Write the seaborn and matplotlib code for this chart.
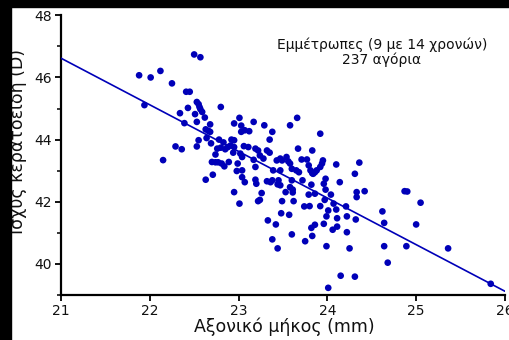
import numpy as np
import pandas as pd
import matplotlib
matplotlib.use("Agg")
import matplotlib.pyplot as plt
from matplotlib.patches import Rectangle
from matplotlib.ticker import MultipleLocator
import seaborn as sns

# Axial length (mm) and corneal power (D) for each emmetropic boy
axial_length = [
    22.50, 22.57, 21.88, 22.01, 22.12, 22.25, 22.41, 22.45, 21.94, 22.53,
    22.55, 22.56, 22.57, 22.59, 22.43, 22.80, 22.34, 22.51, 22.62, 22.53,
    22.39, 22.68, 22.63, 22.66, 22.68, 22.64, 22.55, 22.69, 22.78, 22.83,
    22.80, 22.76, 22.91, 22.29, 22.36, 22.53, 22.74, 22.15, 22.70, 22.74,
    22.77, 22.81, 22.84, 22.89, 22.71, 22.63,
    23.01, 22.95, 23.03, 23.17, 23.29, 23.66, 23.58, 23.03, 23.07, 23.12,
    23.38, 23.35, 22.92, 22.95, 22.88, 22.85, 22.95, 23.06, 23.11, 23.19,
    23.22, 23.32, 23.35, 22.94, 23.02, 23.04, 23.67, 23.83, 22.99, 23.17,
    23.24, 23.28, 23.43, 23.47, 23.49, 23.54, 23.56, 23.58, 23.71, 23.19,
    23.39, 23.47, 23.60, 23.65, 23.68, 22.98, 23.04, 23.04, 23.07, 23.19,
    23.20, 23.32, 23.36, 23.38, 23.45, 23.44, 23.47, 23.60, 23.58, 23.61,
    23.72, 22.95, 23.53,
    23.01, 23.26, 23.22, 23.24, 23.61, 23.49, 23.62, 23.74, 23.80, 23.48,
    23.57, 23.33, 23.42, 23.86, 23.82, 23.60, 23.83, 23.75, 23.38, 23.44,
    23.92, 23.77, 23.79, 23.81, 23.83, 23.84, 23.86, 23.88, 23.92, 23.94,
    23.95, 24.10, 24.36, 24.31, 23.98, 23.96, 23.82, 24.14, 23.98, 24.04,
    23.86, 23.79, 24.33, 24.42, 24.33, 23.97, 24.07, 24.10, 24.01, 23.92,
    24.21, 24.62, 24.64, 23.99, 24.11, 24.22, 24.32, 23.96, 24.11, 24.06,
    24.22, 23.99, 24.25, 24.64, 24.15, 24.31, 24.01,
    24.87, 24.90, 25.05, 25.00, 24.89, 25.36, 24.68, 25.84,
]
corneal_power = [
    46.74, 46.65, 46.07, 46.00, 46.21, 45.81, 45.54, 45.54, 45.11, 45.21,
    45.14, 45.05, 44.98, 44.89, 45.02, 45.05, 44.85, 44.82, 44.71, 44.57,
    44.53, 44.49, 44.33, 44.28, 44.25, 44.05, 43.98, 43.88, 44.00, 43.91,
    43.74, 43.71, 43.81, 43.78, 43.69, 43.78, 43.52, 43.34, 43.28, 43.27,
    43.27, 43.23, 43.14, 43.28, 42.87, 42.71,
    44.70, 44.52, 44.45, 44.57, 44.46, 44.70, 44.46, 44.25, 44.30, 44.27,
    44.25, 44.00, 44.00, 43.98, 43.76, 43.69, 43.76, 43.79, 43.76, 43.71,
    43.65, 43.65, 43.58, 43.58, 43.55, 43.44, 43.71, 43.65, 43.23, 43.35,
    43.49, 43.39, 43.33, 43.39, 43.33, 43.44, 43.30, 43.23, 43.36, 43.12,
    43.01, 43.01, 43.06, 43.01, 42.95, 42.99, 43.01, 42.79, 42.63, 42.71,
    42.58, 42.66, 42.63, 42.69, 42.69, 42.56, 42.53, 42.69, 42.47, 42.39,
    42.69, 42.31, 42.31,
    41.94, 42.28, 42.02, 42.06, 42.30, 42.02, 42.02, 41.85, 41.86, 41.63,
    41.58, 41.40, 41.27, 41.26, 41.16, 40.95, 40.90, 40.73, 40.79, 40.50,
    44.19, 43.36, 43.17, 43.01, 42.92, 42.90, 42.95, 43.01, 43.12, 43.23,
    43.33, 43.20, 43.26, 42.90, 42.74, 42.58, 42.55, 42.63, 42.39, 42.23,
    42.26, 42.23, 42.31, 42.34, 42.15, 42.06, 41.94, 41.75, 41.72, 41.86,
    41.85, 41.69, 41.32, 41.53, 41.47, 41.53, 41.43, 41.29, 41.20, 41.10,
    41.02, 40.57, 40.50, 40.57, 39.62, 39.59, 39.23,
    42.34, 42.33, 41.97, 41.27, 40.57, 40.50, 40.04, 39.36,
]

# Least-squares fit: power = intercept + slope * (length - 21)
fit_intercept_at_21 = 46.62
fit_slope = -1.50

x_ticks = [21, 22, 23, 24, 25, 26]
y_ticks = [40, 42, 44, 46, 48]

title_lines = ["Εμμέτρωπες (9 με 14 χρονών)", "237 αγόρια"]
x_label = "Αξονικό μήκος (mm)"
y_label = "Ισχύς κερατοειδή (D)"

dot_color = "#0000b8"
text_color = "#111111"

sns.set_style("ticks")
plt.rcParams["font.family"] = ["DejaVu Sans"]

fig = plt.figure(figsize=(5.09, 3.40), dpi=100)
ax = fig.add_axes([0.1198, 0.1324, 0.8722, 0.8226])

df = pd.DataFrame({"length": axial_length, "power": corneal_power})
sns.scatterplot(data=df, x="length", y="power", ax=ax, color=dot_color,
                s=23, edgecolor="none", linewidth=0, zorder=3)

fit_x = np.array([x_ticks[0], x_ticks[-1]], dtype=float)
fit_y = fit_intercept_at_21 + fit_slope * (fit_x - 21)
sns.lineplot(x=fit_x, y=fit_y, ax=ax, color=dot_color, linewidth=1.2,
             zorder=4)

ax.set_xlim(21, 26)
ax.set_ylim(39, 48)
ax.set_xticks(x_ticks)
ax.set_yticks(y_ticks)
ax.yaxis.set_minor_locator(MultipleLocator(1))
ax.tick_params(axis="both", which="major", direction="out", length=4,
               width=1.3, labelsize=10, color="black", labelcolor=text_color,
               pad=2.5)
ax.tick_params(axis="y", which="minor", direction="out", length=3, width=1.1,
               color="black")

for side in ("top", "right"):
    ax.spines[side].set_visible(False)
for side in ("left", "bottom"):
    ax.spines[side].set_linewidth(1.6)
    ax.spines[side].set_color("black")

ax.set_xlabel(x_label, fontsize=12.5, color=text_color)
ax.set_ylabel(y_label, fontsize=12.5, color=text_color)
ax.xaxis.set_label_coords(0.503, -0.082)
ax.yaxis.set_label_coords(-0.077, 0.55)

fig.text(0.750, 0.846, "\n".join(title_lines), ha="center", va="center",
         fontsize=10, linespacing=1.1, color=text_color)

# Dark frame strips along the top and left edges
fig.patches.append(Rectangle((0, 0), 11 / 509, 1, transform=fig.transFigure,
                             color="black", zorder=10))
fig.patches.append(Rectangle((0, 1 - 7 / 340), 1, 7 / 340,
                             transform=fig.transFigure, color="black", zorder=10))

fig.savefig("out.png", dpi=100)
